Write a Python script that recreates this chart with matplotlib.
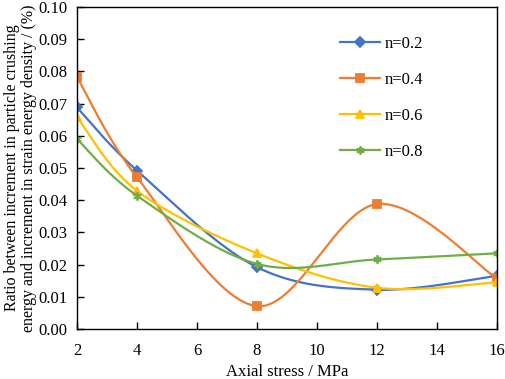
import numpy as np
import matplotlib
matplotlib.use("Agg")
import matplotlib.pyplot as plt

plt.rcParams['font.family'] = ['Liberation Serif', 'DejaVu Serif']

stress = [2, 4, 8, 12, 16]
n02 = [0.0688, 0.0492, 0.0192, 0.0122, 0.0165]
n04 = [0.0782, 0.0471, 0.0071, 0.0388, 0.0157]
n06 = [0.0658, 0.0429, 0.0235, 0.0128, 0.0145]
n08 = [0.0590, 0.0414, 0.0202, 0.0216, 0.0235]
labels = ['n=0.2', 'n=0.4', 'n=0.6', 'n=0.8']


def smooth(x, y, steps=40):
    # excel style smoothed line (bezier through points, 1/6 tangents)
    p = np.column_stack([x, y]).astype(float)
    pts = np.vstack([p[0], p, p[-1]])
    out = []
    t = np.linspace(0, 1, steps)[:, None]
    for i in range(1, len(pts) - 2):
        p0, p3 = pts[i], pts[i + 1]
        p1 = p0 + (pts[i + 1] - pts[i - 1]) / 6
        p2 = p3 - (pts[i + 2] - pts[i]) / 6
        seg = ((1 - t) ** 3) * p0 + 3 * ((1 - t) ** 2) * t * p1 + 3 * (1 - t) * t ** 2 * p2 + t ** 3 * p3
        out.append(seg)
    out = np.vstack(out)
    return out[:, 0], out[:, 1]


fig = plt.figure(figsize=(5.05, 3.79), dpi=100)
ax = fig.add_axes([0.1525, 0.132, 0.8315, 0.8495])

series = [n02, n04, n06, n08]
colors = ['#4472C4', '#ED7D31', '#FFC000', '#70AD47']
markers = ['D', 's', '^', (6, 2, 0)]
msizes = [5, 6, 6, 6]

for ys, c, m, ms, lab in zip(series, colors, markers, msizes, labels):
    sx, sy = smooth(stress, ys)
    ax.plot(sx, sy, color=c, lw=1.6)
    ax.plot(stress, ys, linestyle='none', marker=m, ms=ms, color=c, mec=c, mew=1.3)
    ax.plot([], [], color=c, lw=1.6, marker=m, ms=ms, mec=c, mew=1.3, label=lab)

ax.set_xlim(2, 16)
ax.set_ylim(0, 0.10)
ax.set_xticks(range(2, 17, 2))
ax.set_yticks(np.arange(0, 0.101, 0.01))
ax.set_yticklabels(['%.2f' % v for v in np.arange(0, 0.101, 0.01)])
ax.tick_params(direction='in', labelsize=12, length=5, width=1)
ax.tick_params(axis='x', pad=10)
ax.tick_params(axis='y', pad=7)
for s in ax.spines.values():
    s.set_linewidth(1.0)

ax.set_xlabel('Axial stress / MPa', fontsize=12, labelpad=4)
ax.set_ylabel('Ratio between increment in particle crushing\nenergy and increment in strain energy density / (%)',
              fontsize=11.5, linespacing=1.05, labelpad=1)

ax.legend(loc='upper left', bbox_to_anchor=(0.61, 0.93), frameon=False, fontsize=12,
          labelspacing=1.2, handlelength=2.4, handletextpad=0.3, borderaxespad=0)

fig.savefig('out.png', dpi=100)
